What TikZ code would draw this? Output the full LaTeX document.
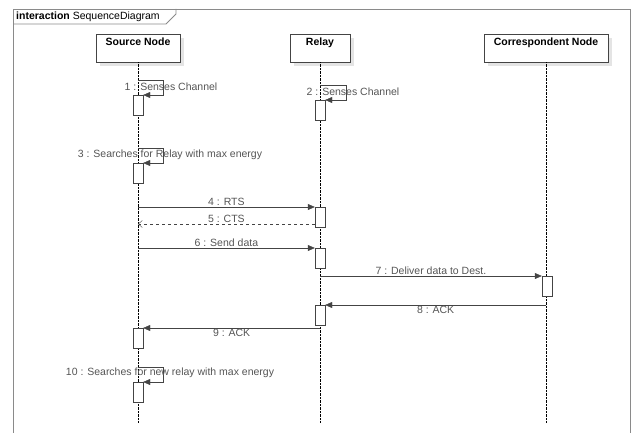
\documentclass[tikz,border=0pt]{standalone}
\usepackage{fontspec}
\setmainfont{Liberation Sans}
\usepackage{xcolor}
\usepackage{tikz}
\usetikzlibrary{arrows.meta,shadows}
\definecolor{edge}{HTML}{444444}
\definecolor{framec}{HTML}{8A8A8A}
\definecolor{txt}{HTML}{555555}
\definecolor{shade}{HTML}{E4E4E4}
\tikzset{head/.style={draw=edge,fill=white,minimum height=28pt,inner sep=0pt,
  text height=8pt,text depth=12pt,font=\fontsize{10.5}{12}\selectfont\bfseries,
  drop shadow={shadow xshift=4pt,shadow yshift=-4pt,fill=shade,opacity=1}},
  act/.style={draw=edge,fill=white,minimum width=10pt,minimum height=20pt,inner sep=0pt,anchor=north},
  life/.style={densely dotted,draw=black},
  msg/.style={-{Triangle[length=7pt,width=6pt]},draw=edge},
  reply/.style={-{Straight Barb[length=4pt,width=7pt]},dashed,draw=edge},
  lbl/.style={text=txt,font=\fontsize{10.5}{12}\selectfont,inner sep=1pt},
  frame/.style={draw=framec,thick}}
\begin{document}
\begin{tikzpicture}[x=1pt,y=-1pt]
\useasboundingbox (0,0) rectangle (631,433);
% frame and tab
\draw[frame] (13,433) -- (13,9) -- (630,9) -- (630,433);
\draw[frame] (13,24) -- (166,24) -- (176,14) -- (176,9);
\node[anchor=west,inner sep=0pt,font=\fontsize{10.5}{12}\selectfont] (title) at (16,16.5) {\textbf{interaction} SequenceDiagram};
% lifelines
\node[head,minimum width=84pt] (src) at (138,48) {Source Node};
\node[head,minimum width=60pt] (rel) at (320,48) {Relay};
\node[head,minimum width=124pt] (cor) at (546,48) {Correspondent Node};
\draw[life] (src.south) -- (src.south |- 0,423);
\draw[life] (rel.south) -- (rel.south |- 0,423);
\draw[life] (cor.south) -- (cor.south |- 0,423);
% activations
\node[act] (a1) at (138,95) {};
\node[act] (a2) at (320,100) {};
\node[act] (a3) at (138,163) {};
\node[act] (a4) at (320,207) {};
\node[act] (a6) at (320,248) {};
\node[act] (a7) at (547,276) {};
\node[act] (a8) at (320,305) {};
\node[act] (a9) at (138,328) {};
\node[act] (a10) at (138,382) {};
% self messages
\draw[msg] (src.south |- 0,80) -- (163,80) |- (a1.north east);
\node[lbl] (m1) at (171,87) {1 : Senses Channel};
\draw[msg] (rel.south |- 0,85) -- (346,85) |- (a2.north east);
\node[lbl] (m2) at (353,92) {2 : Senses Channel};
\draw[msg] (src.south |- 0,148) -- (163,148) |- (a3.north east);
\node[lbl] (m3) at (170,155) {3 : Searches for Relay with max energy};
% exchanges
\draw[msg] (src.south |- a4.north) -- node[lbl,above] {4 : RTS} (a4.north west);
\draw[reply] (a4.west |- 0,224) -- node[lbl,above] {5 : CTS} (src.south |- 0,224);
\draw[msg] (src.south |- a6.north) -- node[lbl,above] {6 : Send data} (a6.north west);
\draw[msg] (rel.south |- a7.north) -- node[lbl,above] {7 : Deliver data to Dest.} (a7.north west);
\draw[msg] (cor.south |- a8.north) -- node[lbl,below] {8 : ACK} (a8.north east);
\draw[msg] (rel.south |- a9.north) -- node[lbl,below] {9 : ACK} (a9.north east);
\draw[msg] (src.south |- 0,367) -- (163,367) |- (a10.north east);
\node[lbl] (m10) at (170,373) {10 : Searches for new relay with max energy};
\end{tikzpicture}
\end{document}
